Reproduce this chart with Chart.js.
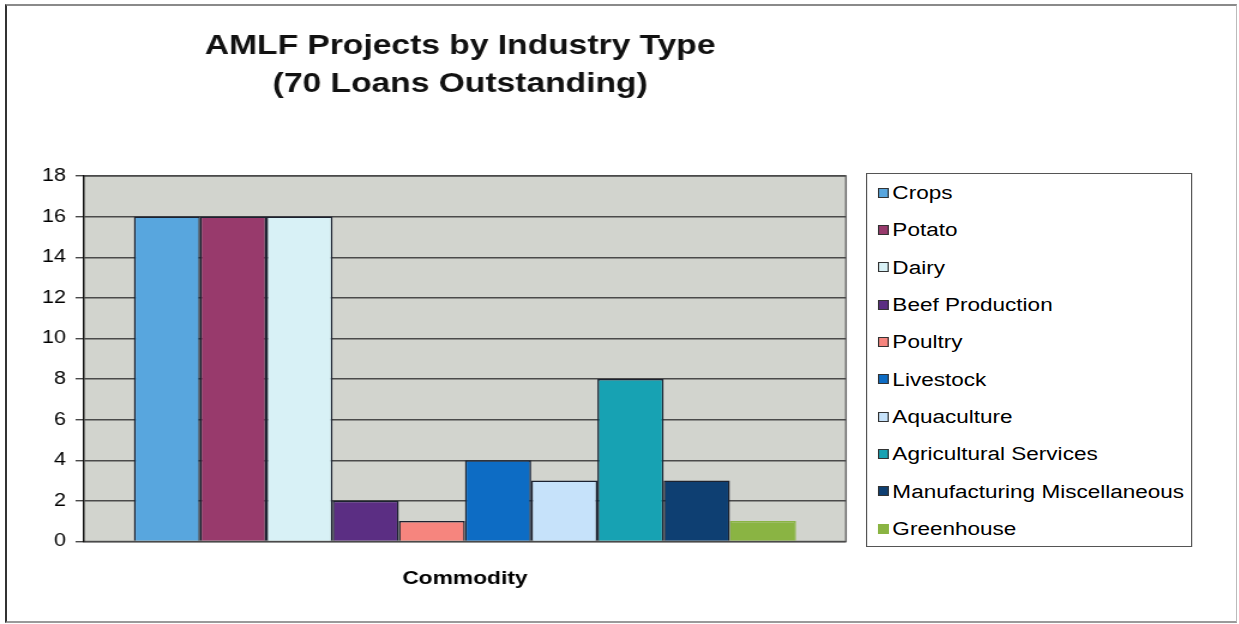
<!DOCTYPE html>
<html>
<head>
<meta charset="utf-8">
<script src="https://cdn.jsdelivr.net/npm/chart.js@4/dist/chart.umd.min.js"></script>
<style>
  html, body { margin: 0; padding: 0; background: #fff; }
  body { width: 1239px; height: 624px; position: relative; overflow: hidden; }
  #frame {
    position: absolute; left: 5px; top: 4px; width: 1229px; height: 615px;
    border-left: 2px solid #333; border-top: 2px solid #8a8a8a;
    border-right: 1px solid #bbb; border-bottom: 2px solid #9a9a9a;
    pointer-events: none;
  }
  #wrap {
    position: absolute; left: 0; top: 0; width: 1033px; height: 624px;
    transform: scaleX(1.19942); transform-origin: 0 0;
  }
  #legend {
    position: absolute; left: 722px; top: 173px; width: 270px; height: 372px;
    border: 1.5px solid #555; background: #fff;
    font-family: Arial, "Liberation Sans", sans-serif; font-size: 18.8px; color: #000;
    box-sizing: content-box;
  }
  #legend .item { height: 37.33px; line-height: 37.33px; white-space: nowrap; padding-left: 8.5px; display: flex; align-items: center; }
  #legend .sw { width: 9px; height: 10px; box-sizing: border-box; border: 1px solid #333; margin-right: 3.5px; flex: none; }
</style>
</head>
<body>
<div id="wrap">
  <canvas id="c" width="1033" height="624"></canvas>
  <div id="legend"></div>
</div>
<div id="frame"></div>
<script>
const titleLines = ['AMLF Projects by Industry Type', '(70 Loans Outstanding)'];
const categories = ['Commodity'];
const seriesNames = ['Crops', 'Potato', 'Dairy', 'Beef Production', 'Poultry', 'Livestock',
  'Aquaculture', 'Agricultural Services', 'Manufacturing Miscellaneous', 'Greenhouse'];
const seriesValues = [16, 16, 16, 2, 1, 4, 3, 8, 3, 1];
const seriesColors = ['#58a6de', '#983a6c', '#d8f1f6', '#5b2e83', '#f6857e', '#0d6cc4',
  '#c6e2fa', '#17a2b3', '#0e3f72', '#8ab443'];
const seriesBorders = ['#1c2230', '#1c2230', '#1c2230', '#1c2230', '#1c2230', '#1c2230',
  '#1c2230', '#1c2230', '#1c2230', '#8ab443'];
const yMin = 0, yMax = 18, yStep = 2;

const FONT = 'Arial, "Liberation Sans", sans-serif';

// HTML legend built from the data arrays
const legendEl = document.getElementById('legend');
seriesNames.forEach((name, i) => {
  const it = document.createElement('div');
  it.className = 'item';
  const sw = document.createElement('span');
  sw.className = 'sw';
  sw.style.background = seriesColors[i];
  sw.style.borderColor = seriesBorders[i] === seriesColors[i] ? seriesColors[i] : '#333';
  const tx = document.createElement('span');
  tx.textContent = name;
  it.appendChild(sw); it.appendChild(tx);
  legendEl.appendChild(it);
});

const plotBg = {
  id: 'plotBg',
  beforeDraw(chart) {
    const {ctx, chartArea: a} = chart;
    ctx.save();
    ctx.fillStyle = '#d2d4ce';
    ctx.fillRect(a.left, a.top, a.right - a.left, a.bottom - a.top);
    ctx.strokeStyle = '#6a6a6a';
    ctx.lineWidth = 1.5;
    ctx.beginPath();
    ctx.moveTo(a.left, a.top); ctx.lineTo(a.right, a.top);
    ctx.lineTo(a.right, a.bottom); ctx.lineTo(a.left, a.bottom);
    ctx.stroke();
    ctx.restore();
  }
};
const centerTitle = {
  id: 'centerTitle',
  afterLayout(chart) {
    const t = chart.titleBlock;
    if (t) {
      t.left = chart.chartArea.left - 4;
      t.right = chart.chartArea.right - 4;
      t.width = t.right - t.left;
    }
  }
};

new Chart(document.getElementById('c'), {
  type: 'bar',
  data: {
    labels: categories,
    datasets: seriesNames.map((name, i) => ({
      label: name,
      data: [seriesValues[i]],
      backgroundColor: seriesColors[i],
      borderColor: seriesBorders[i],
      borderWidth: 1.5,
      categoryPercentage: 0.869,
      barPercentage: 1.0
    }))
  },
  options: {
    responsive: false,
    animation: false,
    devicePixelRatio: 1,
    layout: { padding: { left: 0, top: 0, right: 327.7, bottom: 8.6 } },
    plugins: {
      legend: { display: false },
      tooltip: { enabled: false },
      title: {
        display: true,
        text: titleLines,
        color: '#111',
        font: { family: FONT, size: 28, weight: 'bold', lineHeight: 38 / 28 },
        padding: { top: 27, bottom: 73 }
      }
    },
    scales: {
      x: {
        grid: { display: false, drawTicks: false },
        border: { display: false },
        ticks: {
          color: '#000',
          padding: 25.6,
          font: { family: FONT, size: 19, weight: 'bold', lineHeight: 1.2 }
        }
      },
      y: {
        min: yMin, max: yMax,
        afterFit(scale) { scale.width = 70; },
        ticks: {
          stepSize: yStep,
          color: '#000',
          padding: 8,
          font: { family: FONT, size: 18, lineHeight: 1.2 }
        },
        grid: { color: '#4a4a4a', lineWidth: 1.4, tickLength: 7, drawTicks: true },
        border: { color: '#111', width: 1.5 }
      }
    }
  },
  plugins: [plotBg, centerTitle]
});
</script>
</body>
</html>
